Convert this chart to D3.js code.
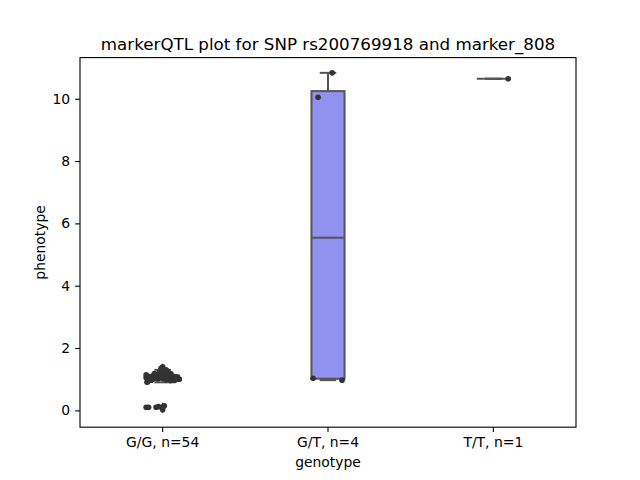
<!DOCTYPE html>
<html>
<head>
<meta charset="utf-8">
<script src="https://cdn.jsdelivr.net/npm/d3@7"></script>
<style>
  html, body { margin: 0; padding: 0; background: #fff; }
  svg { display: block; }
  text { font-family: "DejaVu Sans", sans-serif; }
</style>
</head>
<body>
<svg id="chart" width="640" height="480"></svg>
<script>
const title = "markerQTL plot for SNP rs200769918 and marker_808";
const categories = ["G/G, n=54", "G/T, n=4", "T/T, n=1"];
const yTicks = [0, 2, 4, 6, 8, 10];

// phenotype values per genotype group
const valuesGG = [
  0.1, 0.1, 0.1, 0.12, 0.1, 0.02, 0.15,
  0.92, 0.95, 0.97, 0.98, 0.99, 1.0, 1.0, 1.0, 1.01, 1.02,
  1.02, 1.03, 1.03, 1.04, 1.04, 1.05, 1.05, 1.05, 1.06, 1.06,
  1.07, 1.07, 1.08, 1.08, 1.09, 1.1, 1.1, 1.11, 1.12, 1.13,
  1.14, 1.15, 1.16, 1.18, 1.2, 1.22, 1.25, 1.3, 1.35, 1.4,
  0.9, 0.96, 1.0, 1.04, 1.06, 1.12, 1.17
];
// horizontal strip jitter (fraction of a category width)
const jitterGG = [
  -0.10, -0.085, -0.04, -0.025, 0.0, 0.0, 0.01,
  -0.09, 0.05, -0.07, 0.02, 0.08, -0.06, 0.1, 0.03, -0.03, 0.06,
  -0.08, 0.0, 0.09, -0.05, 0.04, -0.1, 0.07, -0.01, 0.03, -0.07,
  0.05, -0.04, 0.08, -0.02, 0.01, -0.09, 0.06, -0.06, 0.02, 0.04,
  -0.1, -0.03, 0.0, -0.05, 0.01, -0.02, 0.03, 0.02, -0.01, 0.0,
  -0.095, 0.07, 0.1, -0.08, 0.09, -0.04, 0.05
];
const valuesGT = [10.05, 10.83, 1.03, 0.97];
const jitterGT = [-0.06, 0.025, -0.09, 0.085];
const valuesTT = [10.64];
const jitterTT = [0.09];

const groups = [
  { cat: categories[0], values: valuesGG, jitter: jitterGG },
  { cat: categories[1], values: valuesGT, jitter: jitterGT },
  { cat: categories[2], values: valuesTT, jitter: jitterTT }
];

const W = 640, H = 480;
const m = { left: 80, right: 576, top: 57.6, bottom: 427.2 };
const svg = d3.select("#chart");

const x = d3.scaleBand().domain(categories).range([m.left, m.right]).paddingInner(0).paddingOuter(0);
const y = d3.scaleLinear().domain([-0.54, 11.32]).range([m.bottom, m.top]);
const bw = x.bandwidth();
const boxW = bw * 0.2;
const cx = c => x(c) + bw / 2;

const lineColor = "#555555";
const boxFill = "#9191f0";
const dotColor = "#333333";

// boxes
groups.forEach(g => {
  const s = g.values.slice().sort(d3.ascending);
  const q1 = d3.quantile(s, 0.25), med = d3.quantile(s, 0.5), q3 = d3.quantile(s, 0.75);
  const iqr = q3 - q1;
  const lo = d3.min(s.filter(v => v >= q1 - 1.5 * iqr));
  const hi = d3.max(s.filter(v => v <= q3 + 1.5 * iqr));
  const fliers = s.filter(v => v < lo || v > hi);
  const c = cx(g.cat);
  const G = svg.append("g");
  // whiskers
  G.append("line").attr("x1", c).attr("x2", c).attr("y1", y(q3)).attr("y2", y(hi))
    .attr("stroke", lineColor).attr("stroke-width", 2);
  G.append("line").attr("x1", c).attr("x2", c).attr("y1", y(q1)).attr("y2", y(lo))
    .attr("stroke", lineColor).attr("stroke-width", 2);
  // caps
  [lo, hi].forEach(v => {
    G.append("line").attr("x1", c - boxW / 4).attr("x2", c + boxW / 4)
      .attr("y1", y(v)).attr("y2", y(v)).attr("stroke", lineColor).attr("stroke-width", 2);
  });
  // box
  G.append("rect").attr("x", c - boxW / 2).attr("width", boxW)
    .attr("y", y(q3)).attr("height", Math.max(0, y(q1) - y(q3)))
    .attr("fill", boxFill).attr("stroke", lineColor).attr("stroke-width", 2);
  // median
  G.append("line").attr("x1", c - boxW / 2).attr("x2", c + boxW / 2)
    .attr("y1", y(med)).attr("y2", y(med)).attr("stroke", lineColor).attr("stroke-width", 2);
  // fliers (thin diamonds)
  fliers.forEach(v => {
    const py = y(v);
    G.append("path")
      .attr("d", `M${c},${py - 3.5}L${c + 2.2},${py}L${c},${py + 3.5}L${c - 2.2},${py}Z`)
      .attr("fill", lineColor);
  });
});

// strip points
groups.forEach(g => {
  svg.append("g").selectAll("circle").data(g.values).join("circle")
    .attr("cx", (d, i) => cx(g.cat) + g.jitter[i] * bw)
    .attr("cy", d => y(d))
    .attr("r", 2.8)
    .attr("fill", dotColor);
});

// axes frame
svg.append("rect").attr("x", m.left).attr("y", m.top)
  .attr("width", m.right - m.left).attr("height", m.bottom - m.top)
  .attr("fill", "none").attr("stroke", "#000").attr("stroke-width", 1.1);

const fs = 13.9;
// y axis
const yAxis = d3.axisLeft(y).tickValues(yTicks).tickSize(4.9).tickPadding(4.9).tickFormat(d3.format("d"));
const gy = svg.append("g").attr("transform", `translate(${m.left},0)`).call(yAxis);
gy.select(".domain").remove();
gy.selectAll("line").attr("stroke", "#000").attr("stroke-width", 1.1);
gy.selectAll("text").attr("font-size", fs).attr("font-family", "DejaVu Sans").attr("fill", "#000");

// x axis
const xAxis = d3.axisBottom(x).tickSize(4.9).tickPadding(4.9);
const gx = svg.append("g").attr("transform", `translate(0,${m.bottom})`).call(xAxis);
gx.select(".domain").remove();
gx.selectAll("line").attr("stroke", "#000").attr("stroke-width", 1.1);
gx.selectAll("text").attr("font-size", fs).attr("font-family", "DejaVu Sans").attr("fill", "#000");

// labels
svg.append("text").attr("x", (m.left + m.right) / 2).attr("y", 467)
  .attr("text-anchor", "middle").attr("font-size", fs).text("genotype");
svg.append("text").attr("transform", `translate(45,${(m.top + m.bottom) / 2}) rotate(-90)`)
  .attr("text-anchor", "middle").attr("font-size", fs).text("phenotype");
svg.append("text").attr("x", (m.left + m.right) / 2).attr("y", 50)
  .attr("text-anchor", "middle").attr("font-size", 16.7).text(title);
</script>
</body>
</html>
